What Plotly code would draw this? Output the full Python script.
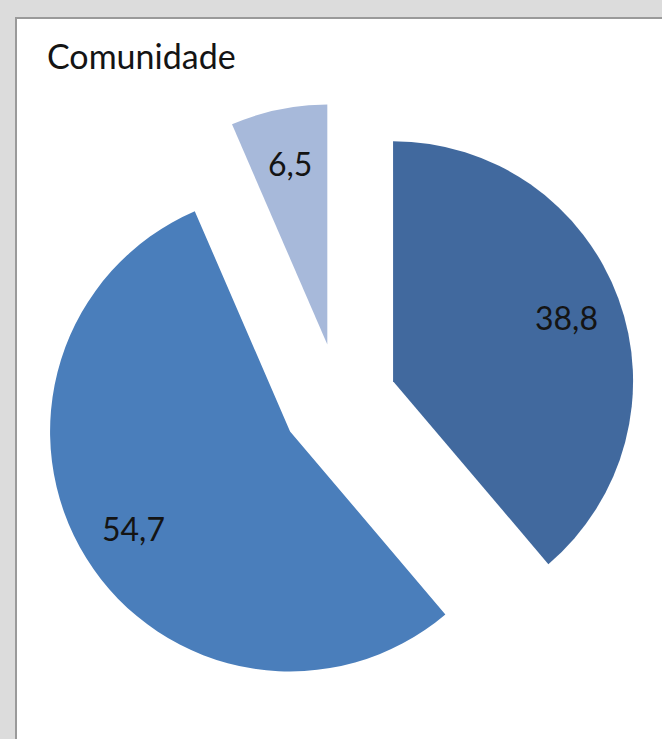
import math
import plotly.graph_objects as go

# Data
categories = ["A", "B", "C"]
values = [38.8, 54.7, 6.5]
labels_txt = ["38,8", "54,7", "6,5"]
colors = ["#41699E", "#4A7EBB", "#A7B9DA"]
title_text = "Comunidade"

W, H = 662, 739
PULL = 0.24
R_PX = 240
CX, CY = 339, 401  # pie center in px (from top-left)
half = R_PX * (1 + PULL)

dom_x = [(CX - half) / W, (CX + half) / W]
dom_y = [1 - (CY + half) / H, 1 - (CY - half) / H]

fig = go.Figure()
fig.add_trace(go.Pie(
    labels=categories,
    values=values,
    sort=False,
    direction="clockwise",
    rotation=0,
    pull=[PULL] * len(values),
    marker=dict(colors=colors, line=dict(width=0)),
    textinfo="none",
    hoverinfo="label+value",
    showlegend=False,
    domain=dict(x=dom_x, y=dom_y),
))

# Label positions derived from slice angles
total = sum(values)
cum = 0.0
annotations = []
for v, t in zip(values, labels_txt):
    mid = (cum + v / 2) / total * 2 * math.pi
    cum += v
    dx, dy = math.sin(mid), -math.cos(mid)
    dist = R_PX * PULL + R_PX * 0.77
    px = CX + dx * dist
    py = CY + dy * dist
    annotations.append(dict(
        x=px / W, y=1 - py / H, xref="paper", yref="paper",
        text=t, showarrow=False, xanchor="center", yanchor="middle",
        font=dict(family="Lato, Liberation Sans, sans-serif", size=32, color="#141414"),
    ))

annotations.append(dict(
    x=45 / W, y=1 - 56 / H, xref="paper", yref="paper",
    text=title_text, showarrow=False, xanchor="left", yanchor="middle",
    font=dict(family="Lato, Liberation Sans, sans-serif", size=34, color="#141414"),
))

fig.update_layout(
    width=W, height=H,
    margin=dict(l=0, r=0, t=0, b=0),
    paper_bgcolor="#DCDCDC",
    plot_bgcolor="#DCDCDC",
    annotations=annotations,
    shapes=[dict(
        type="rect", xref="paper", yref="paper",
        x0=16 / W, x1=1.05, y0=-0.05, y1=1 - 18 / H,
        fillcolor="white", line=dict(color="#9A9A9A", width=2),
        layer="below",
    )],
)

fig.write_html(
    "out.html",
    config={"displayModeBar": False},
    post_script="document.body.style.margin='0';document.body.style.overflow='hidden';",
)
